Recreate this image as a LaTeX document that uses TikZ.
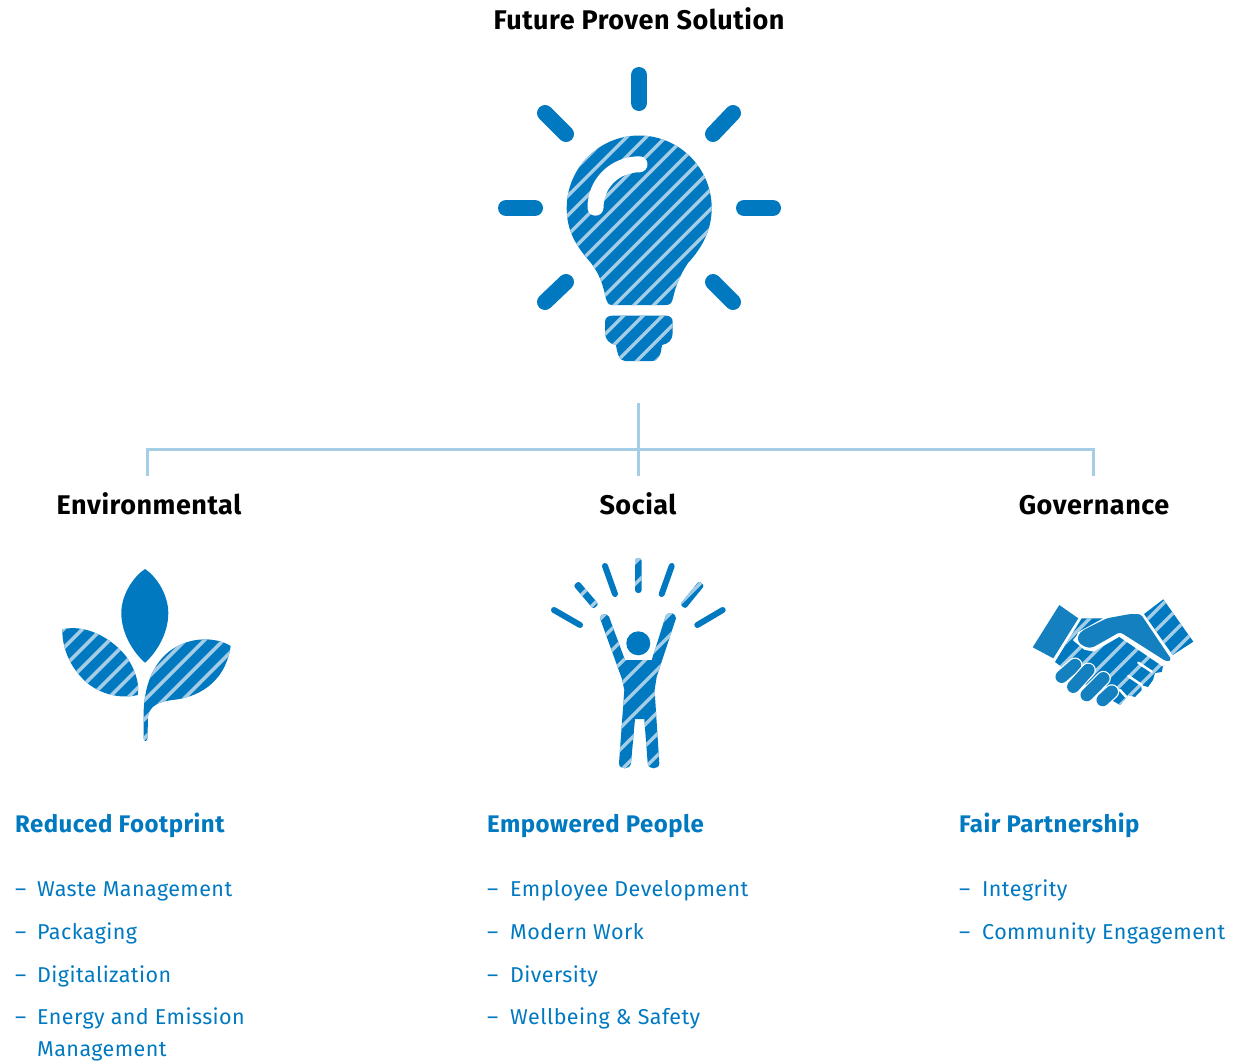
\documentclass[tikz,border=0pt]{standalone}
\usepackage{fontspec}
\setmainfont{Fira Sans}[LetterSpace=2]
\usepackage{tikz}
\definecolor{esgblue}{HTML}{0079C1}
\definecolor{handblue}{HTML}{1580BF}
\definecolor{stripeblue}{HTML}{A5CDE6}
\tikzset{
    heading/.style={font=\fontsize{27}{31}\selectfont\bfseries, text=black, anchor=base, inner sep=0pt, text height=19pt},
    pillar/.style={font=\fontsize{24}{28}\selectfont\bfseries, text=esgblue, anchor=base west, inner sep=0pt},
    entry/.style={font=\fontsize{21.5}{32}\selectfont, text=esgblue, anchor=base west, inner sep=0pt},
    treeline/.style={stripeblue, line width=3pt},
    ray/.style={esgblue, line width=16pt, line cap=round},
    thinray/.style={esgblue, line width=6pt, line cap=round},
    stripe/.style={stripeblue, line width=3.4pt},
    gap/.style={white, line width=2.5pt, line cap=round},
}
% fill, clip, then the diagonal lines
\newcommand{\hatchfill}[4]{
    \begin{scope}
        \fill[esgblue] #1;
        \clip #1;
        \foreach \c in {#2,#3,...,#4} {
            \draw[stripe] (\c,0) -- (0,\c);
        }
    \end{scope}
}
\begin{document}
\begin{tikzpicture}[x=1pt, y=-1pt]
    \useasboundingbox (0,0) rectangle (1247,1061);

    \node[heading] (title) at (639,29) {Future Proven Solution};

    % bulb
    \draw[ray] (639,75) -- (639,103);
    \draw[ray] (506,208) -- (535,208);
    \draw[ray] (744,208) -- (773,208);
    \draw[ray] (545,113) -- (566,134);
    \draw[ray] (733,113) -- (713,134);
    \draw[ray] (545,302) -- (566,282);
    \draw[ray] (733,302) -- (713,282);
    \hatchfill{(612,305) .. controls (608,305) and (607,302) .. (606,299) .. controls (603,285) and (600,275) .. (591,263) .. controls (575,245) and (566.7,230) .. (566.7,208) .. controls (566.7,168) and (599,135.5) .. (639.2,135.5) .. controls (679,135.5) and (711.7,168) .. (711.7,208) .. controls (711.7,230) and (702,248) .. (688,263) .. controls (680,275) and (676,285) .. (673,298) .. controls (672,303) and (670,305) .. (666,305) -- cycle}{607.7}{627.2}{1300}
    \draw[white, line width=16pt, line cap=round] (595.5,207.7) .. controls (595.5,183) and (615,164.3) .. (639.5,164.3);
    \hatchfill{(612,315.7) -- (666,315.7) .. controls (670,315.7) and (672.7,318) .. (672.7,322) -- (672.7,333) .. controls (672.7,340) and (668,344) .. (662,345) .. controls (661,352) and (660,361) .. (652,361) -- (625,361) .. controls (619,361) and (617,352) .. (616,345) .. controls (610,344) and (605,340) .. (605,333) -- (605,322) .. controls (605,318) and (608,315.7) .. (612,315.7) -- cycle}{607.7}{627.2}{1300}

    % tree
    \coordinate (stemtop) at (638,403);
    \coordinate (rail) at (638,449);
    \node[heading, outer ysep=19pt] (envlabel) at (149,514) {Environmental};
    \node[heading, outer ysep=19pt] (soclabel) at (638,514) {Social};
    \node[heading, outer ysep=19pt] (govlabel) at (1094,514) {Governance};
    \draw[treeline] (stemtop) -- (soclabel.north);
    \draw[treeline] ([xshift=-2pt]envlabel.north) |- (rail);
    \draw[treeline] ([xshift=-1pt]govlabel.north) |- (rail);

    % plant
    \fill[esgblue] (145,569) .. controls (133,577) and (121.3,595) .. (121.3,613) .. controls (121.3,635) and (135,654) .. (145,662.7) .. controls (155,654) and (168.3,635) .. (168.3,613) .. controls (168.3,595) and (157,577) .. (145,569) -- cycle;
    \hatchfill{(62.3,629.3) .. controls (85,624) and (110,637) .. (125,655) .. controls (135,668) and (140,684) .. (137.7,695) .. controls (122,699) and (100,695) .. (85,681) .. controls (70,667) and (62,648) .. (62.3,629.3) -- cycle}{654.6}{673.6}{950}
    \hatchfill{(230.7,646) .. controls (215,636) and (185,636) .. (165,655) .. controls (150,670) and (144,690) .. (143.5,715) -- (143.5,738) .. controls (144,742) and (147,742) .. (147.5,738) -- (148,716) .. controls (150,706) and (158,702) .. (172,700) .. controls (195,698) and (225,685) .. (230.7,646) -- cycle}{654.6}{673.6}{1000}

    % person
    \fill[esgblue] (638.3,643.3) circle [x radius=12, y radius=12];
    \draw[thinray] (554,610) -- (580,625);
    \draw[thinray] (605,566) -- (615,594);
    \draw[thinray] (671.7,566) -- (661.7,594);
    \draw[thinray] (722.7,610) -- (697.3,625);
    \hatchfill{[rounded corners=2.5pt] (578.7,581) -- (598.7,604.3) -- (593.3,609) -- (573.3,585.6) -- cycle}{1090.3}{1111.8}{1500}
    \hatchfill{[rounded corners=3pt] (635,558) -- (641.7,558) -- (641.7,593) -- (635,593) -- cycle}{1090.3}{1111.8}{1500}
    \hatchfill{[rounded corners=2.5pt] (704.4,585.5) -- (685.4,608.9) -- (680,604.5) -- (699,581.1) -- cycle}{1090.3}{1111.8}{1500}
    \hatchfill{(600,618.3) -- (621.7,678.3) -- (624.3,690) -- (619,763.3) .. controls (619,770) and (630,770) .. (631,763.3) -- (635,719) -- (644.3,719) -- (647.7,763.3) .. controls (648,770) and (659.3,770) .. (659.3,763.3) -- (654.6,690) -- (656.7,676.7) -- (676,618.3) .. controls (676,613) and (669,611) .. (666,615) -- (651.7,660) -- (625,660) -- (609,616.7) .. controls (607,613) and (600,613) .. (600,618.3) -- cycle}{1090.3}{1111.8}{1500}

    % handshake
    \fill[handblue] (1059.3,605) -- (1078.3,618.3) -- (1053.3,658.3) -- (1032.7,647.3) -- cycle;
    \hatchfill{(1163.3,599.3) -- (1193.3,641.7) -- (1172.7,655) -- (1144,614) -- cycle}{1610.7}{1630.2}{1900}
    \hatchfill{(1081.7,618.3) -- (1103,618.3) -- (1078,632) -- (1075,640) -- (1085,648.3) -- (1093.3,650) -- (1119.3,635) -- (1163.3,665) -- (1161.7,672) -- (1155,673) -- (1153,680) -- (1148,687) -- (1141,685) -- (1141.7,690) -- (1135,697) -- (1128,695) -- (1126,698) -- (1120,705) -- (1115,702) -- (1100,695) -- (1055,662) -- cycle}{1610.7}{1630.2}{1900}
    \draw[white, line width=3pt] (1080,634) -- (1075,640) -- (1085,648.3) -- (1093.3,650) -- (1119.3,635) -- (1163.3,665);
    \fill[handblue, rounded corners=3pt] (1078,635) -- (1083.3,630) -- (1106.7,618.3) -- (1130,614) -- (1140.7,614) -- (1171.7,660) -- (1166.7,661.7) -- (1120,632) -- (1091.7,648) -- (1085,647) -- (1078,642) -- cycle;
    \draw[gap] (1138.3,662.7) -- (1151.7,671.7);
    \draw[gap] (1128.3,676) -- (1141.7,685);
    \draw[gap] (1120,690) -- (1126,696.7);
    \foreach \xa/\ya/\xb/\yb in {1061.7/676.7/1075/665, 1073.3/686.7/1088.3/670, 1086.7/695/1103.3/678.3, 1102.7/700/1111.7/691.7} {
        \draw[white, line width=15pt, line cap=round] (\xa,\ya) -- (\xb,\yb);
        \draw[handblue, line width=12.5pt, line cap=round] (\xa,\ya) -- (\xb,\yb);
    }

    % lists
    \node[pillar] (envhead) at (15,832) {Reduced Footprint};
    \node[pillar] (sochead) at (487,832) {Empowered People};
    \node[pillar] (govhead) at (959,832) {Fair Partnership};

    \foreach \y/\txt [count=\i] in {896/Waste Management, 939/Packaging, 982/Digitalization, 1024/Energy and Emission} {
        \node[entry] (envdash\i) at (15,\y) {–};
        \node[entry] (envitem\i) at (37,\y) {\txt};
    }
    \node[entry] (envitemfive) at (37,1056) {Management};
    \foreach \y/\txt [count=\i] in {896/Employee Development, 939/Modern Work, 982/Diversity, 1024/Wellbeing \& Safety} {
        \node[entry] (socdash\i) at (487,\y) {–};
        \node[entry] (socitem\i) at (510,\y) {\txt};
    }
    \foreach \y/\txt [count=\i] in {896/Integrity, 939/Community Engagement} {
        \node[entry] (govdash\i) at (959,\y) {–};
        \node[entry] (govitem\i) at (982,\y) {\txt};
    }
\end{tikzpicture}
\end{document}
